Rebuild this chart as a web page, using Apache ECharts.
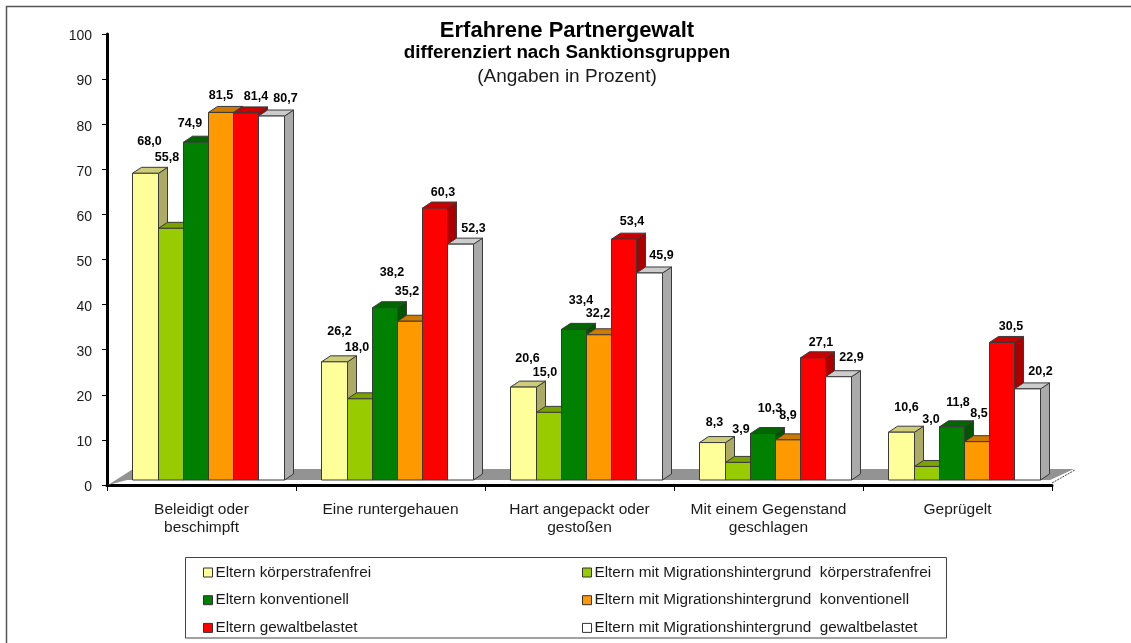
<!DOCTYPE html>
<html>
<head>
<meta charset="utf-8">
<style>html,body{margin:0;padding:0;background:#fff}#c{width:1131px;height:643px}</style>
<script src="https://cdn.jsdelivr.net/npm/echarts@6/dist/echarts.min.js"></script>
</head>
<body>
<div id="c"></div>
<script>
const categories = ['Beleidigt oder\nbeschimpft', 'Eine runtergehauen', 'Hart angepackt oder\ngestoßen', 'Mit einem Gegenstand\ngeschlagen', 'Geprügelt'];
const yTicks = { min: 0, max: 100, interval: 10 };

const seriesNames = [
  'Eltern körperstrafenfrei',
  'Eltern mit Migrationshintergrund  körperstrafenfrei',
  'Eltern konventionell',
  'Eltern mit Migrationshintergrund  konventionell',
  'Eltern gewaltbelastet',
  'Eltern mit Migrationshintergrund  gewaltbelastet'
];
const elternFrei = [68.0, 26.2, 20.6, 8.3, 10.6];
const migrationFrei = [55.8, 18.0, 15.0, 3.9, 3.0];
const elternKonv = [74.9, 38.2, 33.4, 10.3, 11.8];
const migrationKonv = [81.5, 35.2, 32.2, 8.9, 8.5];
const elternGewalt = [81.4, 60.3, 53.4, 27.1, 30.5];
const migrationGewalt = [80.7, 52.3, 45.9, 22.9, 20.2];
const allValues = [elternFrei, migrationFrei, elternKonv, migrationKonv, elternGewalt, migrationGewalt];

// styling
const front = ['#FFFF99', '#99CC00', '#008000', '#FF9900', '#FF0000', '#FFFFFF'];
const side = ['#ABAB66', '#668800', '#005500', '#AA6600', '#AA0000', '#AAAAAA'];
const topFace = ['#CCCC7A', '#7AA300', '#006600', '#CC7A00', '#CC0000', '#CCCCCC'];
const edge = '#3a3a3a';
const depthX = 9, depthY = 6, baseLift = 5, groupShift = 6.5;
// hand-placed label offsets of the original (series -> category), relative to the bar's top centre
const labelNudge = [
  [[4,-32],[5,-30],[4,-29],[2,-20],[5,-25]],
  [[-4,-71],[-3,-51],[-4,-40],[3,-33],[4,-47]],
  [[-6,-19],[7,-35],[7,-29],[7,-25],[6,-24]],
  [[0,-17],[-3,-30],[-1,-21],[0,-24],[2,-28]],
  [[10,-16],[8,-16],[8,-18],[8,-15],[9,-16]],
  [[14,-17],[13,-16],[12,-17],[13,-19],[13,-17]]
];
const font = '"Liberation Sans", Arial, sans-serif';

function poly(points, fill, z2) {
  return { type: 'polygon', z2, shape: { points }, style: { fill, stroke: edge, lineWidth: 1 } };
}

function barRenderer(s) {
  return function (params, api) {
    const cat = api.value(0), v = api.value(1);
    const band = api.size([1, 0])[0];
    const w = band / 7.5;
    const base = api.coord([cat, 0]);
    const top = api.coord([cat, v]);
    const x0 = Math.round(base[0] + groupShift + (s - 3) * w) + 0.5;
    const x1 = Math.round(base[0] + groupShift + (s - 2) * w) + 0.5;
    const y0 = base[1] - baseLift;
    const y1 = top[1] - baseLift;
    const nudge = labelNudge[s][cat];
    return {
      type: 'group',
      children: [
        poly([[x1, y1], [x1 + depthX, y1 - depthY], [x1 + depthX, y0 - depthY], [x1, y0]], side[s], 10 + s),
        poly([[x0, y1], [x0 + depthX, y1 - depthY], [x1 + depthX, y1 - depthY], [x1, y1]], topFace[s], 10 + s),
        poly([[x0, y1], [x1, y1], [x1, y0], [x0, y0]], front[s], 10 + s),
        {
          type: 'text', z2: 100,
          style: {
            x: (x0 + x1) / 2 + nudge[0], y: y1 + nudge[1],
            text: v.toFixed(1).replace('.', ','),
            fill: '#000', font: 'bold 12.5px ' + font,
            align: 'center', verticalAlign: 'middle'
          }
        }
      ]
    };
  };
}

function floorRenderer(params, api) {
  const band = api.size([1, 0])[0];
  const o = api.coord([0, 0]);
  const left = o[0] - band / 2, right = left + band * categories.length, y = o[1];
  return {
    type: 'group',
    children: [
      { type: 'polygon', z2: 1, shape: { points: [[left + 1, y], [left + 26, y - 16], [right + 22, y - 16], [right - 2, y - 5], [left + 20, y - 5]] },
        style: { fill: '#939393', stroke: 'none' } },
      { type: 'line', z2: 2, shape: { x1: right, y1: y - 2, x2: right + 23, y2: y - 15 }, style: { stroke: '#444', lineWidth: 1, lineDash: [2, 1] } }
    ]
  };
}

const barSeries = allValues.map((vals, s) => ({
  type: 'custom',
  name: seriesNames[s],
  renderItem: barRenderer(s),
  clip: false,
  itemStyle: { color: front[s] },
  encode: { x: 0, y: 1 },
  data: vals.map((v, i) => [i, v])
}));

const legendBase = {
  orient: 'vertical', icon: 'rect', itemWidth: 9, itemHeight: 9, itemGap: 12.7,
  selectedMode: false, padding: 0,
  itemStyle: { borderColor: '#333', borderWidth: 1 },
  textStyle: { fontFamily: font, fontSize: 15.3, color: '#1a1a1a', padding: [0, 0, 0, -2] }
};

const chart = echarts.init(document.getElementById('c'), null, { renderer: 'canvas' });
chart.setOption({
  backgroundColor: '#fff',
  animation: false,
  title: [
    { text: 'Erfahrene Partnergewalt', left: 567, top: 20, textAlign: 'center', padding: 0,
      textStyle: { fontFamily: font, fontSize: 22, fontWeight: 'bold', color: '#000' } },
    { text: 'differenziert nach Sanktionsgruppen', left: 567, top: 43, textAlign: 'center', padding: 0,
      textStyle: { fontFamily: font, fontSize: 18.8, fontWeight: 'bold', color: '#000' } },
    { text: '(Angaben in Prozent)', left: 567, top: 67, textAlign: 'center', padding: 0,
      textStyle: { fontFamily: font, fontSize: 19, fontWeight: 'normal', color: '#1a1a1a' } }
  ],
  grid: { left: 107, top: 34, width: 945, height: 451, containLabel: false },
  xAxis: {
    type: 'category', data: categories,
    boundaryGap: true,
    axisLine: { lineStyle: { color: '#000', width: 3 } },
    axisTick: { show: true, alignWithLabel: false, length: 6, lineStyle: { color: '#000', width: 1 } },
    axisLabel: { interval: 0, margin: 16, fontFamily: font, fontSize: 15.5, color: '#1a1a1a', lineHeight: 18 }
  },
  yAxis: {
    type: 'value', min: yTicks.min, max: yTicks.max, interval: yTicks.interval,
    splitLine: { show: false },
    axisLine: { show: true, lineStyle: { color: '#000', width: 3 } },
    axisTick: { show: true, length: 5, lineStyle: { color: '#000', width: 1 } },
    axisLabel: {
      margin: 15, formatter: '{t|{value}}',
      rich: { t: { padding: [5, 0, 0, 0], fontFamily: font, fontSize: 14, color: '#1a1a1a' } }
    }
  },
  legend: [
    Object.assign({}, legendBase, { left: 203, top: 565, data: [seriesNames[0], seriesNames[2], seriesNames[4]] }),
    Object.assign({}, legendBase, { left: 582, top: 565, data: [seriesNames[1], seriesNames[3], seriesNames[5]] })
  ],
  graphic: [
    { type: 'rect', z: -1, shape: { x: 185.5, y: 557.5, width: 761, height: 80.5 }, style: { fill: '#fff', stroke: '#444', lineWidth: 1 } },
    { type: 'polyline', z: -1, shape: { points: [[6.5, 643], [6.5, 6.5], [1131, 6.5]] }, style: { fill: 'none', stroke: '#555', lineWidth: 1.5 } }
  ],
  series: [{
    type: 'custom', name: 'Boden', renderItem: floorRenderer, clip: false,
    silent: true, data: [[0, 0]], encode: { x: 0, y: 1 }
  }].concat(barSeries)
});
</script>
</body>
</html>
